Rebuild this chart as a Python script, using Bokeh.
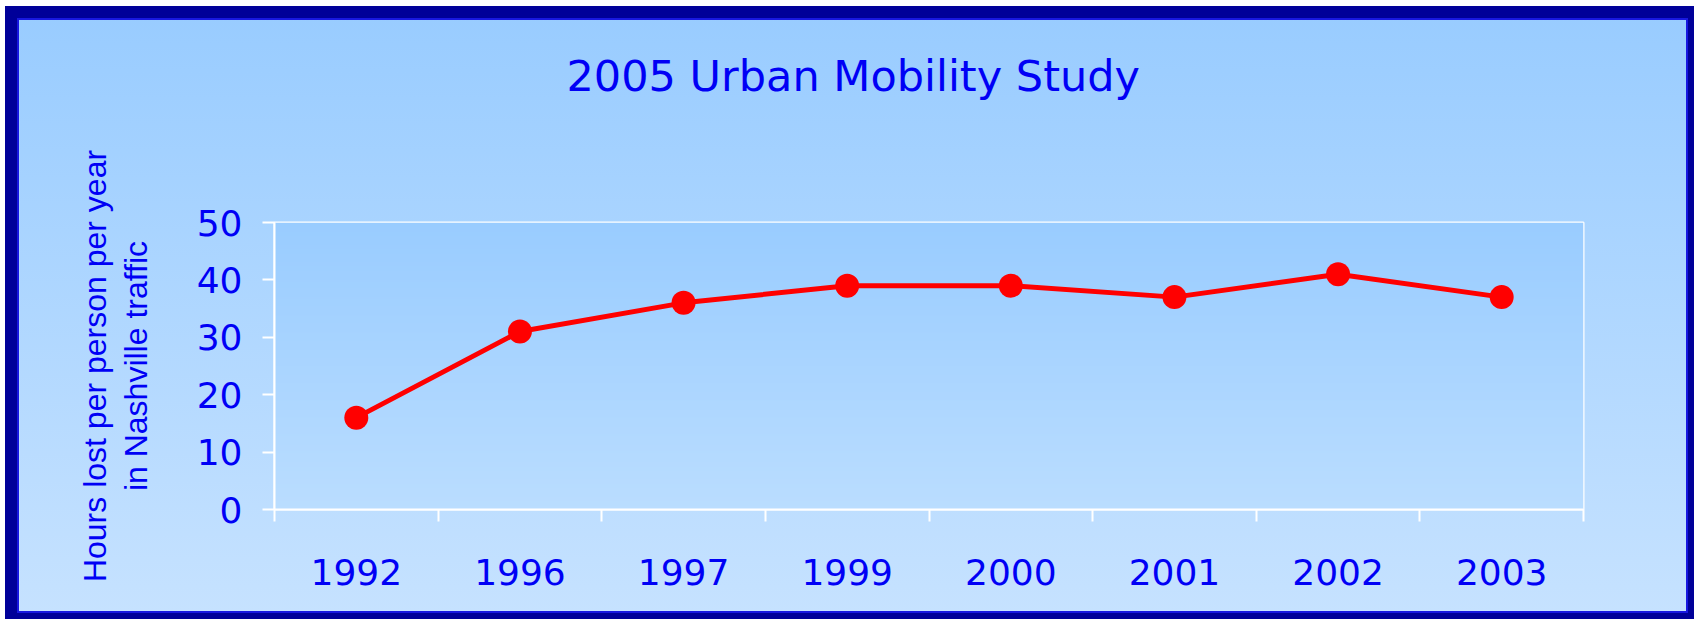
import numpy as np
from bokeh.plotting import figure
from bokeh.models import FixedTicker, Range1d
from bokeh.layouts import column
from bokeh.embed import file_html
from bokeh.resources import INLINE

# ---- data ----
years = ["1992", "1996", "1997", "1999", "2000", "2001", "2002", "2003"]
hours = [16, 31, 36, 39, 39, 37, 41, 37]
y_ticks = [0, 10, 20, 30, 40, 50]
title_text = "2005 Urban Mobility Study"
y_label = "Hours lost per person per year\nin Nashville traffic"

n = len(years)
xs = list(range(1, n + 1))
ymax = y_ticks[-1]

BLUE = "#0000F5"
TOP = 300          # space above the plot area (part of it is shifted off by CSS)
SHIFT = TOP - 204  # CSS upward shift of the canvas
W, H = 1671, 595 + SHIFT

p = figure(width=W, height=H, output_backend="svg", toolbar_location=None,
           x_range=Range1d(0.5, n + 0.5), y_range=Range1d(0, ymax),
           min_border_left=257, min_border_right=105,
           min_border_top=TOP, min_border_bottom=104)
p.styles = {"margin-top": f"-{SHIFT}px"}

p.background_fill_alpha = 0
p.border_fill_alpha = 0
p.outline_line_color = "white"
p.outline_line_width = 2

# plot-area gradient
N = 256
t = np.linspace(0, 1, N)  # 0 bottom -> 1 top
bot = np.array([0xBA, 0xDD, 0xFF])
top = np.array([0x99, 0xCC, 0xFF])
cols = (bot[None, :] * (1 - t[:, None]) + top[None, :] * t[:, None]).round().astype(np.uint32)
img = (255 << 24) | (cols[:, 2] << 16) | (cols[:, 1] << 8) | cols[:, 0]
img = img.reshape(N, 1).astype(np.uint32)
p.image_rgba(image=[img], x=0.5, y=0, dw=n, dh=ymax)

# title
p.title.text = title_text
p.title.align = "left"
p.title.offset = 292
p.title.standoff = 244
p.title.text_font = "DejaVu Sans"
p.title.text_font_size = "43px"
p.title.text_font_style = "normal"
p.title.text_color = BLUE

# y axis
ya = p.yaxis[0]
ya.ticker = FixedTicker(ticks=y_ticks)
ya.axis_line_color = "white"
ya.axis_line_width = 2
ya.major_tick_line_color = "white"
ya.major_tick_line_width = 2
ya.major_tick_out = 12
ya.major_tick_in = 0
ya.minor_tick_line_color = None
ya.major_label_text_font = "DejaVu Sans"
ya.major_label_text_font_size = "36px"
ya.major_label_text_color = BLUE
ya.major_label_standoff = 20
ya.axis_label = y_label
ya.axis_label_text_font = "Liberation Sans"
ya.axis_label_text_font_size = "32px"
ya.axis_label_text_font_style = "normal"
ya.axis_label_text_color = BLUE
ya.axis_label_text_line_height = 1.14
ya.axis_label_standoff = 40

# x axis
xa = p.xaxis[0]
xa.ticker = FixedTicker(ticks=xs, minor_ticks=[i + 0.5 for i in range(n + 1)])
xa.major_label_overrides = {x: yr for x, yr in zip(xs, years)}
xa.axis_line_color = "white"
xa.axis_line_width = 2
xa.major_tick_line_color = None
xa.major_tick_out = 0
xa.major_tick_in = 0
xa.minor_tick_line_color = "white"
xa.minor_tick_line_width = 2
xa.minor_tick_out = 12
xa.minor_tick_in = 0
xa.major_label_text_font = "DejaVu Sans"
xa.major_label_text_font_size = "36px"
xa.major_label_text_color = BLUE
xa.major_label_standoff = 37

p.xgrid.grid_line_color = None
p.ygrid.grid_line_color = "white"
p.ygrid.grid_line_width = 2

# data
p.line(xs, hours, line_color="#FF0000", line_width=5)
p.scatter(xs, hours, size=24, fill_color="#FF0000", line_color=None)

layout = column(p, styles={
    "margin-left": "5px",
    "margin-top": "6px",
    "border-left": "12px solid #000099",
    "border-top": "12px solid #000099",
    "border-right": "6px solid #000099",
    "border-bottom": "6px solid #000099",
    "box-shadow": "inset 0 0 0 2px #1818E0",
    "background": "linear-gradient(180deg, #99CCFF 0%, #C6E2FF 100%)",
})

open("out.html", "w").write(file_html(layout, INLINE))
